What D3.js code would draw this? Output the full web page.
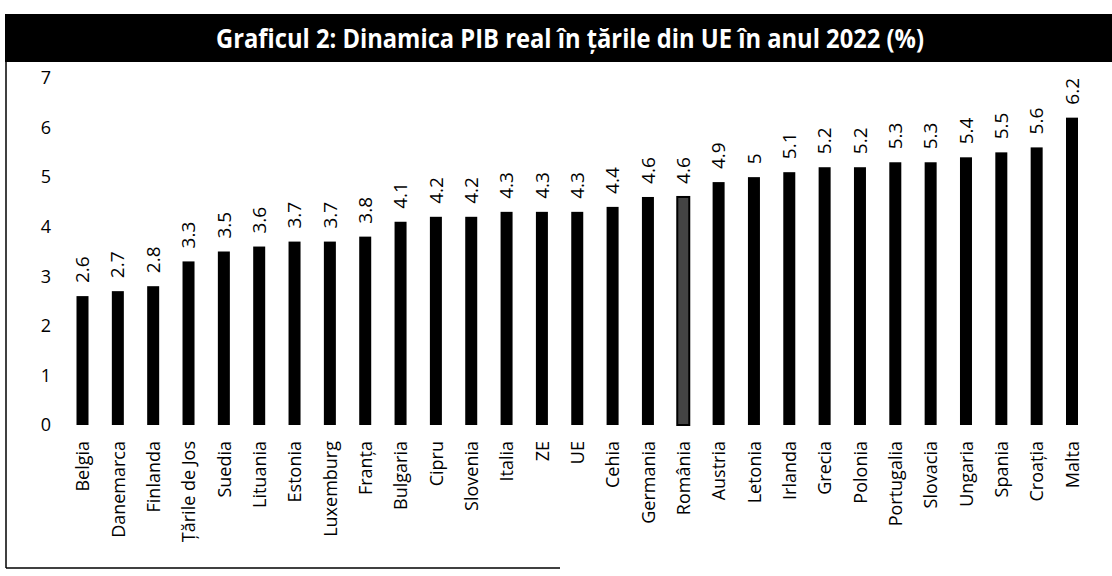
<!DOCTYPE html>
<html>
<head>
<meta charset="utf-8">
<script src="https://cdn.jsdelivr.net/npm/d3@7"></script>
<style>
  html, body { margin: 0; padding: 0; background: #fff; }
  svg { display: block; }
  text { font-family: "Open Sans", "Noto Sans", sans-serif; fill: #000; }
</style>
</head>
<body>
<svg id="chart" width="1112" height="576"></svg>
<script>
const titleText = "Graficul 2: Dinamica PIB real în țările din UE în anul 2022 (%)";
const categories = ["Belgia","Danemarca","Finlanda","Țările de Jos","Suedia","Lituania","Estonia","Luxemburg","Franța","Bulgaria","Cipru","Slovenia","Italia","ZE","UE","Cehia","Germania","România","Austria","Letonia","Irlanda","Grecia","Polonia","Portugalia","Slovacia","Ungaria","Spania","Croația","Malta"];
const values = [2.6,2.7,2.8,3.3,3.5,3.6,3.7,3.7,3.8,4.1,4.2,4.2,4.3,4.3,4.3,4.4,4.6,4.6,4.9,5,5.1,5.2,5.2,5.3,5.3,5.4,5.5,5.6,6.2];
const yTicks = [0,1,2,3,4,5,6,7];
const highlighted = ["România"];

const data = categories.map((c, i) => ({ c, v: values[i] }));
const svg = d3.select("#chart");

// frame lines (scanned document border)
svg.append("line").attr("x1", 6).attr("x2", 6).attr("y1", 60).attr("y2", 568)
  .attr("stroke", "#000").attr("stroke-width", 1.5);
svg.append("line").attr("x1", 6).attr("x2", 560).attr("y1", 568).attr("y2", 568)
  .attr("stroke", "#000").attr("stroke-width", 1.5);

// title bar
svg.append("rect").attr("x", 5).attr("y", 14).attr("width", 1107).attr("height", 48).attr("fill", "#000");
svg.append("text").attr("x", 570).attr("y", 48).attr("text-anchor", "middle")
  .attr("font-size", 27).attr("font-weight", "bold").style("fill", "#fff")
  .attr("textLength", 708).attr("lengthAdjust", "spacingAndGlyphs")
  .text(titleText);

const x = d3.scalePoint().domain(categories).range([82.5, 1072]);
const y = d3.scaleLinear().domain([0, 7]).range([425, 78]);
const barW = 12;

// y axis
const yAxis = svg.append("g").attr("transform", "translate(51,0)")
  .call(d3.axisLeft(y).tickValues(yTicks).tickSize(0).tickPadding(0).tickFormat(d3.format("d")));
yAxis.select(".domain").remove();
yAxis.selectAll("text").attr("font-size", 18).style("font-family", "'Open Sans', sans-serif");

// bars
svg.append("g").selectAll("rect").data(data).join("rect")
  .attr("x", d => x(d.c) - barW / 2)
  .attr("width", barW)
  .attr("y", d => y(d.v))
  .attr("height", d => y(0) - y(d.v))
  .attr("fill", d => highlighted.includes(d.c) ? "#444" : "#000")
  .attr("stroke", d => highlighted.includes(d.c) ? "#000" : "none")
  .attr("stroke-width", 2);

// value labels
svg.append("g").selectAll("text").data(data).join("text")
  .attr("transform", d => `translate(${x(d.c)},${y(d.v) - 13}) rotate(-90)`)
  .attr("text-anchor", "start").attr("dy", "0.35em")
  .attr("font-size", 19)
  .text(d => String(d.v));

// x axis
const xAxis = svg.append("g").attr("transform", `translate(0,${y(0)})`)
  .call(d3.axisBottom(x).tickSize(0).tickPadding(0));
xAxis.select(".domain").remove();
xAxis.selectAll("text")
  .attr("transform", "translate(0,16) rotate(-90)")
  .attr("text-anchor", "end").attr("x", 0).attr("y", 0).attr("dy", "0.35em")
  .attr("font-size", 18).style("font-family", "'Open Sans', sans-serif");
</script>
</body>
</html>
